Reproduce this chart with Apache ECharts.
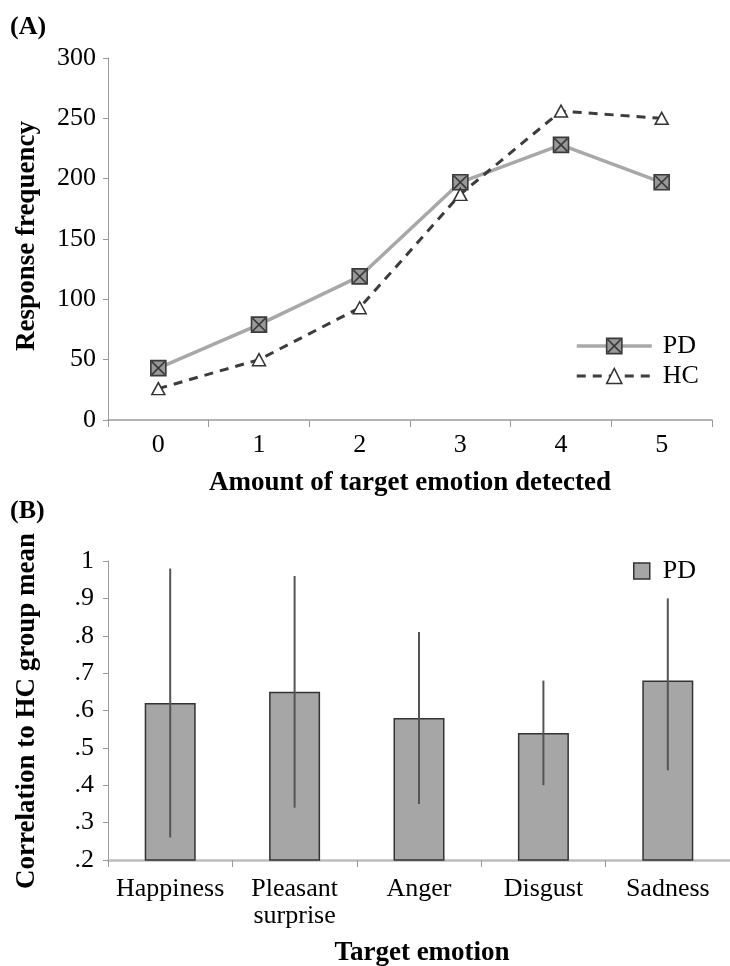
<!DOCTYPE html>
<html>
<head>
<meta charset="utf-8">
<script src="https://cdn.jsdelivr.net/npm/echarts@6/dist/echarts.min.js"></script>
<style>
html,body{margin:0;padding:0;background:#fff;}
#chart{width:730px;height:966px;}
</style>
</head>
<body>
<div id="chart"></div>
<script>
// Panel A data
var amountCategories = ['0', '1', '2', '3', '4', '5'];
var pdFrequency = [43, 79, 119, 197, 228, 197];
var hcFrequency = [26, 50, 93, 187, 256, 250];

// Panel B data
var emotionCategories = ['Happiness', 'Pleasant\nsurprise', 'Anger', 'Disgust', 'Sadness'];
var pdCorrelation = [0.62, 0.65, 0.58, 0.54, 0.68];
var pdErrLow = [0.26, 0.34, 0.35, 0.40, 0.44];
var pdErrHigh = [0.98, 0.96, 0.81, 0.68, 0.90];

var FONT = '"Liberation Serif", "Times New Roman", serif';
var TICK_FS = 26;
var chart = echarts.init(document.getElementById('chart'), null, {renderer: 'canvas'});

var pdSymbol = 'path://M0,0H10V10H0Z M0.8,0.8L9.2,9.2 M9.2,0.8L0.8,9.2';

var errData = emotionCategories.map(function (c, i) { return [i, pdErrLow[i], pdErrHigh[i]]; });

var pdLine = {color: '#a8a8a8', width: 3.5};
var pdItem = {color: '#999999', borderColor: '#3a3a3a', borderWidth: 1.6};
var hcLine = {color: '#3c3c3c', width: 3, type: [9, 7]};
var hcItem = {color: '#ffffff', borderColor: '#333', borderWidth: 1.5};

var option = {
  backgroundColor: '#ffffff',
  animation: false,
  textStyle: {fontFamily: FONT, color: '#000'},
  grid: [
    {left: 108, top: 58, width: 604, height: 362},
    {left: 108, top: 561, width: 628, height: 299}
  ],
  xAxis: [
    {
      gridIndex: 0, type: 'category', data: amountCategories, boundaryGap: true,
      axisLine: {lineStyle: {color: '#9a9a9a', width: 1.5}},
      axisTick: {show: true, length: 7, interval: 0, alignWithLabel: false, lineStyle: {color: '#9a9a9a', width: 1}},
      axisLabel: {fontFamily: FONT, fontSize: TICK_FS, color: '#000', margin: 12, interval: 0}
    },
    {
      gridIndex: 1, type: 'category', data: emotionCategories, boundaryGap: true,
      axisLine: {lineStyle: {color: '#bdbdbd', width: 2.5}},
      axisTick: {show: true, length: 7, interval: 0, alignWithLabel: false, lineStyle: {color: '#9a9a9a', width: 1}},
      axisLabel: {fontFamily: FONT, fontSize: TICK_FS, color: '#000', margin: 16, lineHeight: 27, interval: 0}
    }
  ],
  yAxis: [
    {
      gridIndex: 0, type: 'value', min: 0, max: 300, interval: 50,
      splitLine: {show: false},
      axisLine: {show: true, lineStyle: {color: '#9a9a9a', width: 1}},
      axisTick: {show: true, length: 5, lineStyle: {color: '#9a9a9a'}},
      axisLabel: {fontFamily: FONT, fontSize: TICK_FS, color: '#000', margin: 12}
    },
    {
      gridIndex: 1, type: 'value', min: 0.2, max: 1, interval: 0.1,
      splitLine: {show: false},
      axisLine: {show: true, lineStyle: {color: '#9a9a9a', width: 1}},
      axisTick: {show: true, length: 5, lineStyle: {color: '#9a9a9a'}},
      axisLabel: {
        fontFamily: FONT, fontSize: TICK_FS, color: '#000', margin: 14,
        formatter: function (v) {
          var t = Math.round(v * 10);
          return t >= 10 ? '1' : '.' + t;
        }
      }
    }
  ],
  legend: [
    {
      orient: 'vertical', left: 570, top: 328, itemWidth: 75, itemHeight: 19, itemGap: 4,
      data: [
        {name: 'PD', lineStyle: pdLine, itemStyle: pdItem},
        {name: 'HC', lineStyle: hcLine, itemStyle: hcItem}
      ],
      textStyle: {fontFamily: FONT, fontSize: TICK_FS, color: '#000', padding: [0, 0, 0, 6]}
    },
    {
      left: 628, top: 553, itemWidth: 16, itemHeight: 16, icon: 'rect',
      data: [{name: 'PD ', itemStyle: {color: '#a6a6a6', borderColor: '#333', borderWidth: 1.5}}],
      formatter: function () { return 'PD'; },
      textStyle: {fontFamily: FONT, fontSize: TICK_FS, color: '#000', padding: [0, 0, 0, 8]}
    }
  ],
  series: [
    {
      name: 'PD', type: 'line', xAxisIndex: 0, yAxisIndex: 0, data: pdFrequency,
      symbol: pdSymbol, symbolSize: 15,
      lineStyle: pdLine, itemStyle: pdItem,
      z: 3
    },
    {
      name: 'HC', type: 'line', xAxisIndex: 0, yAxisIndex: 0, data: hcFrequency,
      symbol: 'triangle', symbolSize: [13, 12],
      lineStyle: hcLine, itemStyle: hcItem,
      z: 4
    },
    {
      name: 'PD ', type: 'bar', xAxisIndex: 1, yAxisIndex: 1, data: pdCorrelation,
      barWidth: 51,
      itemStyle: {color: '#a6a6a6', borderColor: '#333', borderWidth: 1.5}
    },
    {
      name: 'err', type: 'custom', xAxisIndex: 1, yAxisIndex: 1, data: errData,
      encode: {x: 0, y: [1, 2]},
      renderItem: function (params, api) {
        var lo = api.coord([api.value(0), api.value(1)]);
        var hi = api.coord([api.value(0), api.value(2)]);
        return {
          type: 'line',
          shape: {x1: lo[0], y1: lo[1], x2: hi[0], y2: hi[1]},
          style: {stroke: '#555', lineWidth: 2}
        };
      },
      z: 5
    }
  ],
  graphic: [
    {type: 'text', left: 10, top: 14, style: {text: '(A)', font: 'bold 26px ' + FONT, fill: '#000'}},
    {type: 'text', left: 10, top: 498, style: {text: '(B)', font: 'bold 26px ' + FONT, fill: '#000'}},
    {type: 'text', x: 410, y: 483, style: {text: 'Amount of target emotion detected', font: 'bold 27px ' + FONT, fill: '#000', align: 'center', verticalAlign: 'middle'}},
    {type: 'text', x: 422, y: 953, style: {text: 'Target emotion', font: 'bold 27px ' + FONT, fill: '#000', align: 'center', verticalAlign: 'middle'}},
    {type: 'text', x: 27, y: 236, rotation: Math.PI / 2, style: {text: 'Response frequency', font: 'bold 27px ' + FONT, fill: '#000', align: 'center', verticalAlign: 'middle'}},
    {type: 'text', x: 27, y: 711, rotation: Math.PI / 2, style: {text: 'Correlation to HC group mean', font: 'bold 27px ' + FONT, fill: '#000', align: 'center', verticalAlign: 'middle'}}
  ]
};
chart.setOption(option);
</script>
</body>
</html>
